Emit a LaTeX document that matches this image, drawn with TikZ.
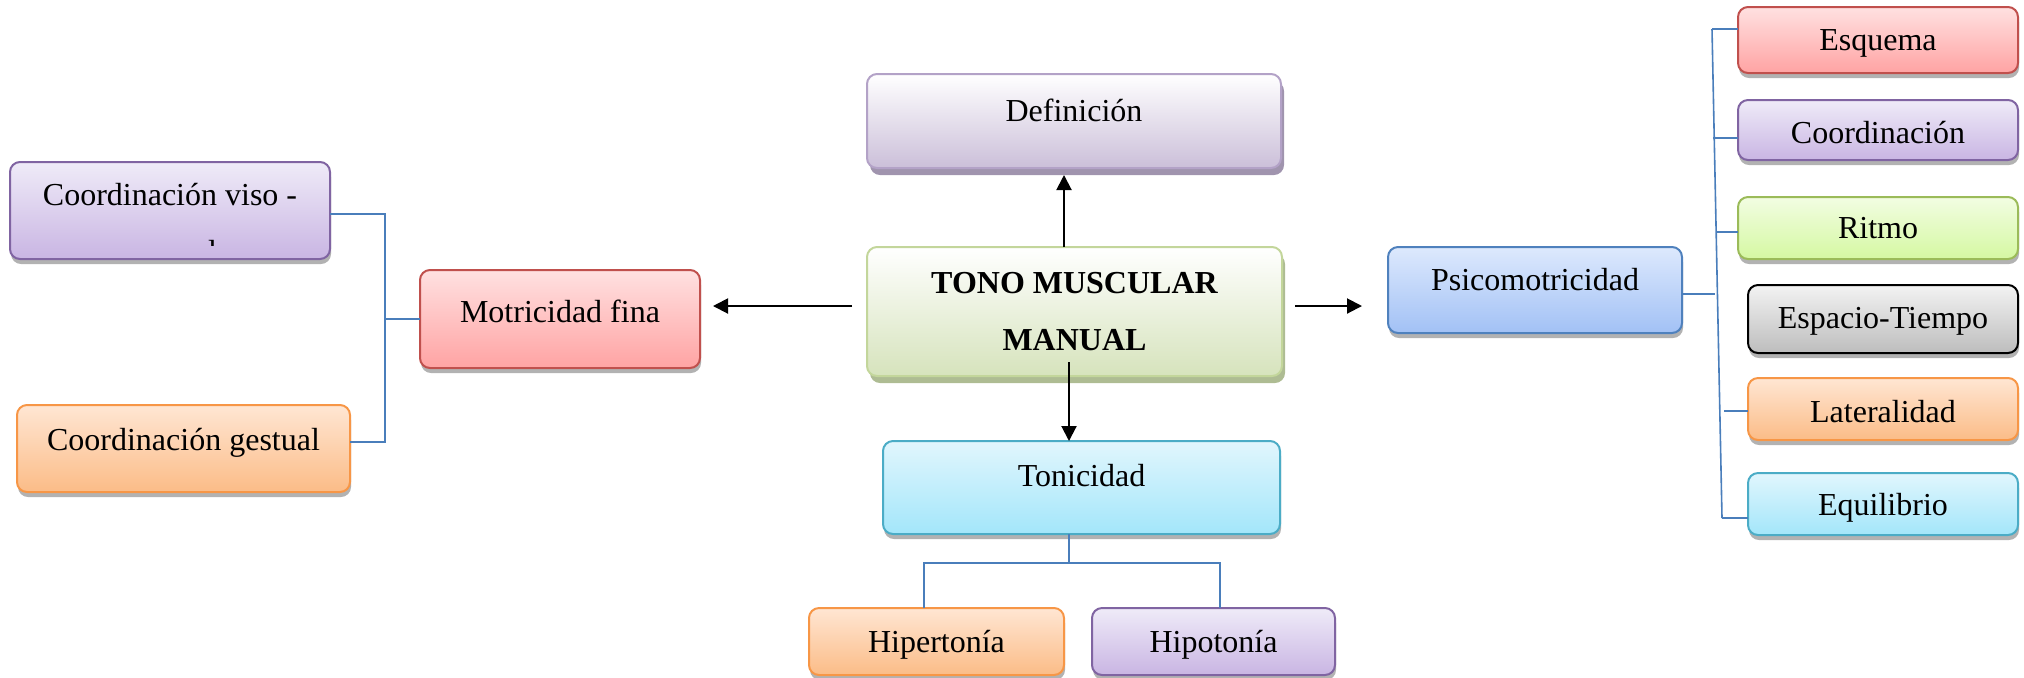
\documentclass[tikz,border=0pt]{standalone}
\usepackage{fontspec}
\setmainfont{Liberation Serif}
\usetikzlibrary{arrows.meta}
\usetikzlibrary{calc}
\usetikzlibrary{shadows}

\definecolor{roseline}{HTML}{C0504D}\definecolor{rosetop}{HTML}{FFE1E1}\definecolor{rosebot}{HTML}{FFA3A3}
\definecolor{lilacline}{HTML}{8064A2}\definecolor{lilactop}{HTML}{EFEBF8}\definecolor{lilacbot}{HTML}{C9B5E3}
\definecolor{peachline}{HTML}{F79646}\definecolor{peachtop}{HTML}{FFE6D3}\definecolor{peachbot}{HTML}{FBBC87}
\definecolor{aqualine}{HTML}{4BACC6}\definecolor{aquatop}{HTML}{E1F6FD}\definecolor{aquabot}{HTML}{A3E6FA}
\definecolor{skyline}{HTML}{4F81BD}\definecolor{skytop}{HTML}{DDE9FD}\definecolor{skybot}{HTML}{A2C1F5}
\definecolor{limeline}{HTML}{9BBB59}\definecolor{limetop}{HTML}{F2FDE2}\definecolor{limebot}{HTML}{D5F8A2}
\definecolor{greytop}{HTML}{F3F3F3}\definecolor{greybot}{HTML}{BDBDBD}
\definecolor{defline}{HTML}{B3A2C7}\definecolor{defbot}{HTML}{CBBFD9}\definecolor{defbevel}{HTML}{A094AE}
\definecolor{tonoline}{HTML}{C3D69B}\definecolor{tonobot}{HTML}{D6E3BC}\definecolor{tonobevel}{HTML}{AEBC93}
\definecolor{linkblue}{HTML}{4A7EBB}

\newcommand{\mapnode}[8]{\node(#1)[item,#2,minimum width=#5pt,text height=#6pt,text depth=#7pt] at (#3,#4) {#8}}
\newcommand{\twolines}[2]{\vtop{\halign{\hfil##\hfil\cr#1\cr#2\cr}}}

\begin{document}
\begin{tikzpicture}[
        x=0.5pt, y=-0.5pt,
        every node/.style={font=\fontsize{16pt}{28.5pt}\selectfont},
        item/.style={rectangle,rounded corners=5pt,line width=1pt,
                     inner sep=0pt,outer sep=0pt,anchor=north west},
        soft/.style={drop shadow={shadow xshift=0.5pt,shadow yshift=-2.5pt,opacity=0.3,fill=black}},
        bevel/.style={drop shadow={shadow xshift=1.5pt,shadow yshift=-3.5pt,opacity=1,fill=#1}},
        rose/.style={draw=roseline,top color=rosetop,bottom color=rosebot,soft},
        lilac/.style={draw=lilacline,top color=lilactop,bottom color=lilacbot,soft},
        peach/.style={draw=peachline,top color=peachtop,bottom color=peachbot,soft},
        aqua/.style={draw=aqualine,top color=aquatop,bottom color=aquabot,soft},
        sky/.style={draw=skyline,top color=skytop,bottom color=skybot,soft},
        lime/.style={draw=limeline,top color=limetop,bottom color=limebot,soft},
        grey/.style={draw=black,top color=greytop,bottom color=greybot,soft},
        arr/.style={-{Triangle[length=7.5pt,width=7.5pt]},line width=1pt},
        link/.style={draw=linkblue,line width=0.8pt}
      ]
      \useasboundingbox (0,0) rectangle (2024,677);

      % centre and its four children
      \mapnode{defi}{draw=defline,top color=white,bottom color=defbot,bevel=defbevel}{867}{74}{207}{23.5}{23.5}{Definición};
      \mapnode{tono}{draw=tonoline,top color=white,bottom color=tonobot,bevel=tonobevel}{867}{247}{207.5}{23}{41.5}{\bfseries\twolines{TONO MUSCULAR}{MANUAL}};
      \mapnode{toni}{aqua}{883}{441}{198.5}{22.5}{24}{Tonicidad};
      \mapnode{motri}{rose}{420}{270}{140}{26}{23}{Motricidad fina};
      \mapnode{psico}{sky}{1388}{247}{147}{21.5}{21.5}{Psicomotricidad};

      % Tonicidad
      \mapnode{hiper}{peach}{809}{608}{127.5}{22}{11.5}{Hipertonía};
      \mapnode{hipo}{lilac}{1092}{608}{121.5}{22}{11.5}{Hipotonía};

      % Motricidad fina
      \mapnode{viso}{lilac}{10}{162}{160}{21.5}{27}{Coordinación viso -};
      \mapnode{gestual}{peach}{17}{405}{166.5}{22.5}{21}{Coordinación gestual};
      \begin{scope}
        \clip (10,230) rectangle (330,245);
        \node (visorest) [anchor=base] at ($(viso.north)+(0,100)$) {manual};
      \end{scope}

      % Psicomotricidad
      \mapnode{esq}{rose}{1738}{7}{140}{21.5}{11.5}{Esquema};
      \mapnode{coord}{lilac}{1738}{100}{140}{21.5}{8.5}{Coordinación};
      \mapnode{ritmo}{lime}{1738}{197}{140}{20.5}{10.5}{Ritmo};
      \mapnode{espacio}{grey}{1748}{285}{135}{21.5}{12.5}{Espacio-Tiempo};
      \mapnode{lat}{peach}{1748}{378}{135}{22}{9}{Lateralidad};
      \mapnode{equi}{aqua}{1748}{473}{135}{21}{10}{Equilibrio};

      % arrows out of the centre box
      \draw[arr] ($(tono.north)+(-10.5,0)$) -- ($(defi.south)+(-10,7)$);
      \draw[arr] ($(tono.west)+(-15,-5.5)$) -- ($(motri.east)+(13,-13)$);
      \draw[arr] ($(tono.east)+(13,-5.5)$) -- ($(psico.west)+(-26,16)$);
      \draw[arr] ($(tono.south)+(-5.5,-14)$) -- ($(toni.north)+(-12.5,0)$);

      % left branch
      \draw[link] ($(viso.east)+(0,3.5)$) -| ($(gestual.east)+(35,-6.5)$) -- ($(gestual.east)+(0,-6.5)$);
      \draw[link] (motri.west) -- ++(-35,0);

      % bottom branch
      \draw[link] ($(toni.south)+(-12.5,0)$) -- ++(0,29);
      \draw[link] ($(hiper.north)+(-12.5,0)$) |- ($(toni.south)+(-12.5,29)$) -| ($(hipo.north)+(6.5,0)$);

      % right branch
      \draw[link] ($(esq.west)+(-26,-11)$) -- ($(equi.west)+(-26,14)$);
      \draw[link] ($(esq.west)+(0,-11)$) -- ++(-26,0);
      \draw[link] ($(coord.west)+(0,8)$) -- ++(-25,0);
      \draw[link] ($(ritmo.west)+(0,4)$) -- ++(-21,0);
      \draw[link] ($(psico.east)+(0,4)$) -- ++(33,0);
      \draw[link] ($(lat.west)+(0,2)$) -- ++(-24,0);
      \draw[link] ($(equi.west)+(0,14)$) -- ++(-26,0);
    \end{tikzpicture}
\end{document}
